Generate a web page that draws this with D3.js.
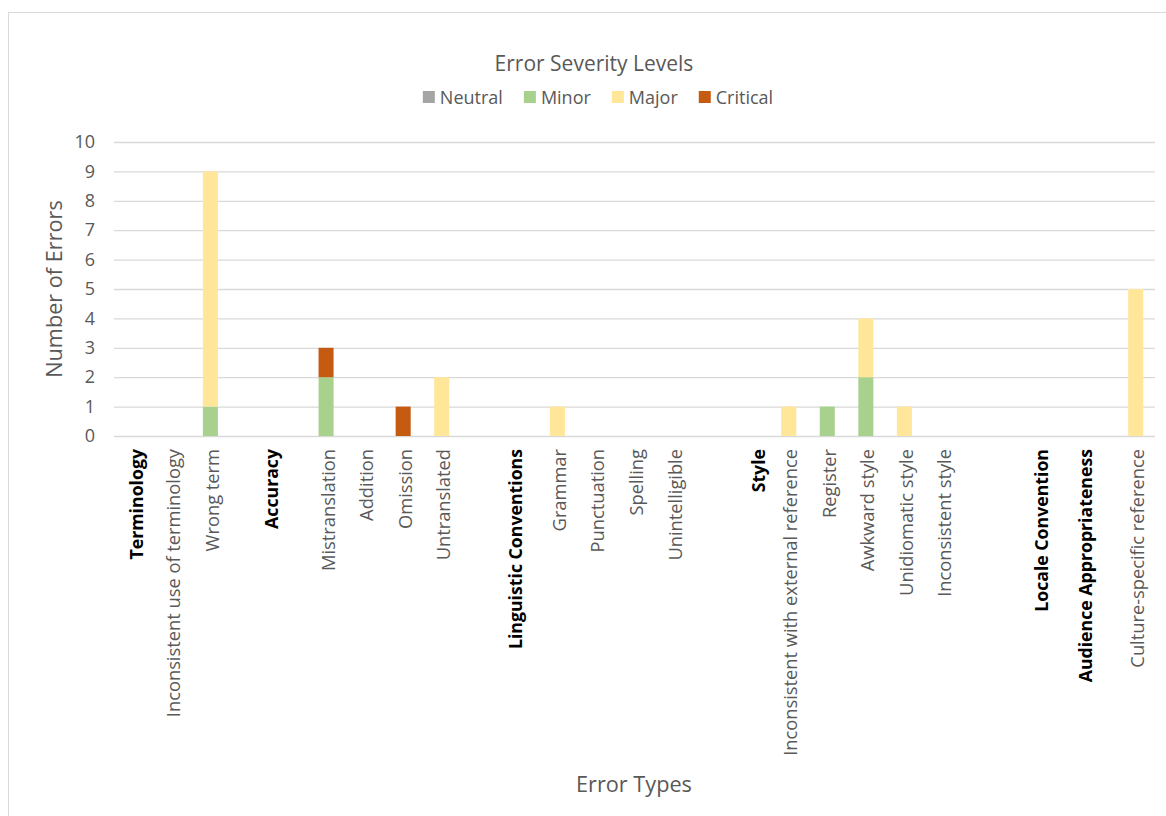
<!DOCTYPE html>
<html>
<head>
<meta charset="utf-8">
<script src="https://cdn.jsdelivr.net/npm/d3@7"></script>
<style>
  html, body { margin: 0; padding: 0; background: #fff; }
  svg { display: block; font-family: "Open Sans", sans-serif; }
</style>
</head>
<body>
<svg id="chart" width="1166" height="816"></svg>
<script>
// Error categories along the x axis ("" = spacer slot between groups)
const categories = [
  "Terminology", "Inconsistent use of terminology", "Wrong term", "",
  "Accuracy", "Mistranslation", "Addition", "Omission", "Untranslated", "",
  "Linguistic Conventions", "Grammar", "Punctuation", "Spelling", "Unintelligible", "",
  "Style", "Inconsistent with external reference", "Register", "Awkward style",
  "Unidiomatic style", "Inconsistent style", "", "",
  "Locale Convention", "Audience Appropriateness", "Culture-specific reference"
];
// Group headings (shown in bold)
const headings = ["Terminology", "Accuracy", "Linguistic Conventions", "Style",
  "Locale Convention", "Audience Appropriateness"];

// Severity series, stacked bottom to top
const severities = ["Neutral", "Minor", "Major", "Critical"];
const neutral  = [0,0,0,0, 0,0,0,0,0,0, 0,0,0,0,0,0, 0,0,0,0,0,0,0,0, 0,0,0];
const minor    = [0,0,1,0, 0,2,0,0,0,0, 0,0,0,0,0,0, 0,0,1,2,0,0,0,0, 0,0,0];
const major    = [0,0,8,0, 0,0,0,0,2,0, 0,1,0,0,0,0, 0,1,0,2,1,0,0,0, 0,0,5];
const critical = [0,0,0,0, 0,1,0,1,0,0, 0,0,0,0,0,0, 0,0,0,0,0,0,0,0, 0,0,0];

const yTicks = [0,1,2,3,4,5,6,7,8,9,10];

const colors = { Neutral: "#a5a5a5", Minor: "#a9d18e", Major: "#ffe699", Critical: "#c55a11" };

const svg = d3.select("#chart");

// chart frame
svg.append("rect")
  .attr("x", 8.5).attr("y", 12.5).attr("width", 1170).attr("height", 820)
  .attr("fill", "#fff").attr("stroke", "#d9d9d9").attr("stroke-width", 1);

const plot = { left: 114, right: 1155, top: 142, bottom: 436 };

const x = d3.scaleBand()
  .domain(d3.range(categories.length))
  .range([plot.left, plot.right])
  .paddingInner(0.61)
  .paddingOuter(0.305);

const y = d3.scaleLinear().domain([0, 10]).range([plot.bottom, plot.top]);

// gridlines
svg.append("g")
  .selectAll("line")
  .data(yTicks)
  .join("line")
  .attr("x1", plot.left).attr("x2", plot.right)
  .attr("y1", d => y(d) + 0.5).attr("y2", d => y(d) + 0.5)
  .attr("stroke", "#d9d9d9").attr("stroke-width", 1.3);

// y axis tick labels
const yAxis = svg.append("g")
  .attr("transform", `translate(${plot.left - 19},0)`)
  .call(d3.axisLeft(y).tickValues(yTicks).tickSize(0).tickPadding(0));
yAxis.select(".domain").remove();
yAxis.selectAll("text")
  .attr("fill", "#595959")
  .style("font-size", "18px")
  .style("font-family", "'Open Sans', sans-serif");

// stacked bars
const rows = categories.map((c, i) => ({
  i, Neutral: neutral[i], Minor: minor[i], Major: major[i], Critical: critical[i]
}));
const stacked = d3.stack().keys(severities)(rows);

svg.append("g")
  .selectAll("g")
  .data(stacked)
  .join("g")
  .attr("fill", s => colors[s.key])
  .selectAll("rect")
  .data(s => s.filter(d => d[1] > d[0]))
  .join("rect")
  .attr("x", d => x(d.data.i))
  .attr("width", x.bandwidth())
  .attr("y", d => y(d[1]))
  .attr("height", d => y(d[0]) - y(d[1]));

// x axis category labels, rotated
const headingNudge = {
  "Terminology": 3, "Accuracy": -17, "Linguistic Conventions": -4,
  "Style": 8, "Locale Convention": -18, "Audience Appropriateness": -12
};
svg.append("g")
  .selectAll("text")
  .data(categories.map((c, i) => ({ c, i })).filter(d => d.c !== ""))
  .join("text")
  .attr("transform", d => {
    const isHead = headings.includes(d.c);
    const cx = x(d.i) + x.bandwidth() / 2 + (isHead ? headingNudge[d.c] : 1);
    return `translate(${cx},${plot.bottom + 13}) rotate(-90)`;
  })
  .attr("text-anchor", "end")
  .attr("dominant-baseline", "central")
  .attr("fill", d => headings.includes(d.c) ? "#000" : "#595959")
  .style("font-weight", d => headings.includes(d.c) ? "700" : "400")
  .style("font-size", d => headings.includes(d.c) ? "17.7px" : "18.3px")
  .text(d => d.c);

// axis titles
svg.append("text")
  .attr("x", 634).attr("y", 792)
  .attr("text-anchor", "middle")
  .attr("fill", "#595959")
  .style("font-size", "21.7px")
  .text("Error Types");

svg.append("text")
  .attr("transform", "translate(53,289) rotate(-90)")
  .attr("text-anchor", "middle")
  .attr("dominant-baseline", "central")
  .attr("fill", "#595959")
  .style("font-size", "21.7px")
  .text("Number of Errors");

// legend title
svg.append("text")
  .attr("x", 594).attr("y", 71)
  .attr("text-anchor", "middle")
  .attr("fill", "#595959")
  .style("font-size", "21px")
  .text("Error Severity Levels");

// legend items
const legend = svg.append("g");
let lx = 0;
severities.forEach(k => {
  const g = legend.append("g").attr("transform", `translate(${lx},0)`);
  g.append("rect").attr("x", 0).attr("y", -6).attr("width", 12).attr("height", 12)
    .attr("fill", colors[k]);
  const t = g.append("text").attr("x", 17).attr("y", 0)
    .attr("dominant-baseline", "central")
    .attr("fill", "#595959")
    .style("font-size", "18px")
    .text(k);
  lx += 17 + t.node().getComputedTextLength() + 21;
});
const legendWidth = lx - 21;
legend.attr("transform", `translate(${598 - legendWidth / 2},97)`);
</script>
</body>
</html>
